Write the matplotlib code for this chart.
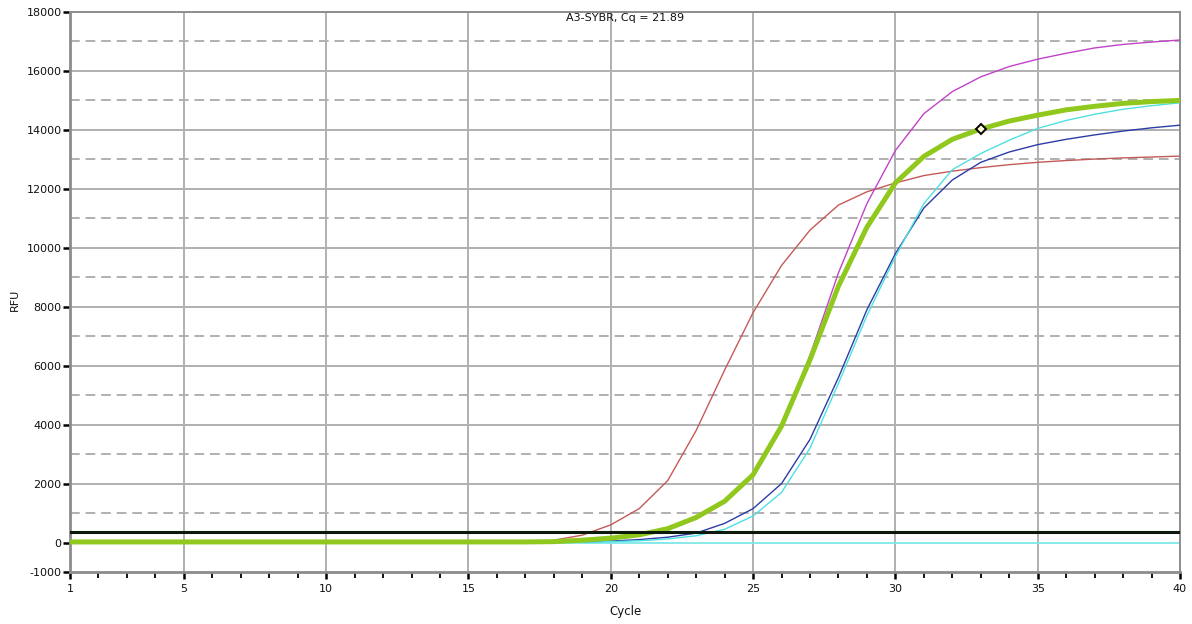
import numpy as np
import matplotlib
matplotlib.use('Agg')
import matplotlib.pyplot as plt

plt.rcParams['axes.unicode_minus'] = False

# ── data ─────────────────────────────────────────────────────────────────────
cycles_all = list(range(1, 41))
cycles_late = list(range(18, 41))

green_rfu = [20] * 17 + [30, 80, 150, 260, 470, 850, 1400, 2300, 3950, 6200, 8700,
                         10700, 12200, 13100, 13680, 14030, 14300, 14500, 14680,
                         14800, 14900, 14960, 15000]
red_rfu = [80, 250, 600, 1150, 2100, 3800, 5850, 7800, 9400, 10600, 11450, 11900,
           12200, 12450, 12600, 12720, 12820, 12900, 12960, 13010, 13050, 13080, 13110]
magenta_rfu = [20, 60, 120, 220, 420, 800, 1350, 2250, 3950, 6350, 9150, 11500,
               13300, 14550, 15300, 15800, 16150, 16400, 16600, 16780, 16900, 16980, 17050]
blue_rfu = [0, 20, 50, 100, 180, 320, 650, 1150, 2000, 3500, 5600, 7900, 9800,
            11350, 12300, 12900, 13250, 13500, 13680, 13830, 13960, 14070, 14160]
cyan_rfu = [0, 10, 30, 60, 120, 230, 450, 900, 1700, 3200, 5400, 7700, 9700,
            11500, 12650, 13200, 13650, 14050, 14320, 14530, 14700, 14820, 14920]
ntc_rfu = [-20] * 40

threshold = 370
cq_cycle = 33
cq_rfu = 14030

x_major = [1, 5, 10, 15, 20, 25, 30, 35, 40]
y_major = [-1000, 0, 2000, 4000, 6000, 8000, 10000, 12000, 14000, 16000, 18000]
y_dashed = [1000, 3000, 5000, 7000, 9000, 11000, 13000, 15000, 17000]

# ── figure ───────────────────────────────────────────────────────────────────
fig = plt.figure(figsize=(11.92, 6.24), dpi=100)
ax = fig.add_axes([70 / 1192, 1 - 572 / 624, 1110 / 1192, 560 / 624])

grid_c = '#b0b0b0'
for v in y_major[2:-1]:
    ax.axhline(v, color=grid_c, lw=1.4, zorder=0)
for v in y_dashed:
    ax.axhline(v, color=grid_c, lw=1.4, ls=(0, (5, 3)), zorder=0)
for c in x_major[1:-1]:
    ax.axvline(c, color=grid_c, lw=1.4, zorder=0)

ax.plot(cycles_all, ntc_rfu, color='#7ee8e8', lw=1.3, zorder=2)
ax.plot(cycles_late, red_rfu, color='#c45a58', lw=1.0, zorder=3)
ax.plot(cycles_late, blue_rfu, color='#2b3ca6', lw=1.0, zorder=3)
ax.plot(cycles_late, cyan_rfu, color='#4fe0e0', lw=1.0, zorder=3)
ax.plot(cycles_late, magenta_rfu, color='#c043c8', lw=1.0, zorder=3)
ax.plot(cycles_all, green_rfu, color='#90c81e', lw=3.6, zorder=4,
        solid_capstyle='butt')
ax.plot([cq_cycle], [cq_rfu], marker='D', ms=5, mfc='#fffbd0', mec='black',
        mew=1.4, zorder=6)
ax.axhline(threshold, color='#0c1a0c', lw=2.2, zorder=5)

ax.set_xlim(1, 40)
ax.set_ylim(-1000, 18000)
ax.set_xticks(x_major)
ax.set_xticks(cycles_all, minor=True)
ax.set_yticks(y_major)
ax.tick_params(axis='both', which='major', labelsize=8, color='black',
               width=1.8, length=5, labelcolor='#111111')
ax.tick_params(axis='y', pad=1)
ax.tick_params(axis='x', pad=4)
ax.tick_params(axis='x', which='minor', length=4, width=1.3, color='black')

for side in ['left', 'bottom', 'top', 'right']:
    ax.spines[side].set_color('#8c8c8c')
    ax.spines[side].set_linewidth(1.4)
ax.spines['left'].set_linewidth(2.0)
ax.spines['bottom'].set_linewidth(2.0)

fig.text(15 / 1192, 1 - 300 / 624, 'RFU', rotation=90, ha='center',
         va='center', fontsize=8, color='#111111')
fig.text(625 / 1192, 1 - 611 / 624, 'Cycle', ha='center', va='center',
         fontsize=8.5, color='#111111')
fig.text(625 / 1192, 1 - 18 / 624, 'A3-SYBR, Cq = 21.89', ha='center',
         va='center', fontsize=8, color='#111111')

plt.savefig('out.png', dpi=100)
plt.close()
